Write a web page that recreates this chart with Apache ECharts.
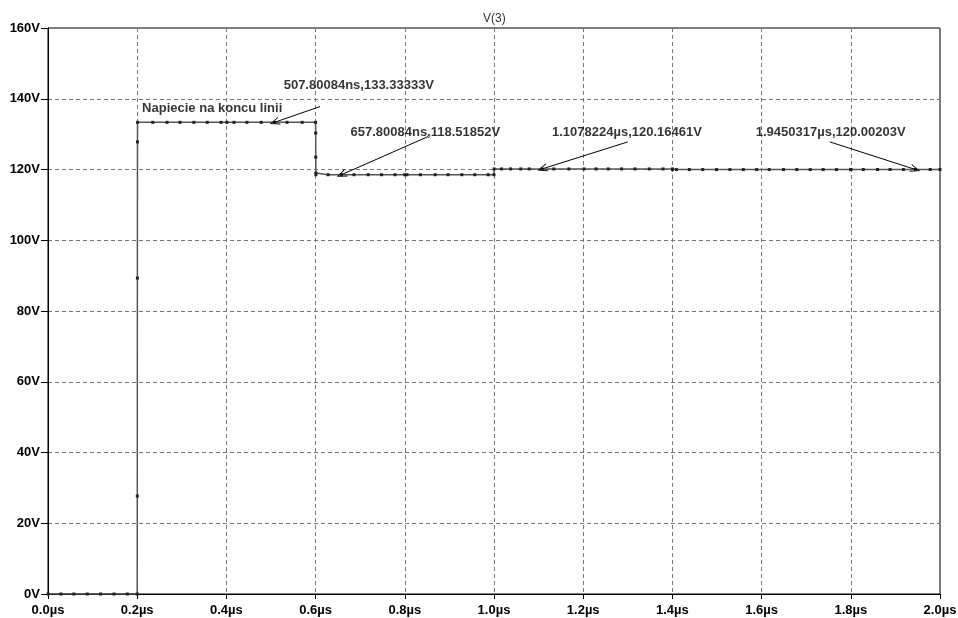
<!DOCTYPE html>
<html>
<head>
<meta charset="utf-8">
<script src="https://cdn.jsdelivr.net/npm/echarts/dist/echarts.min.js"></script>
<style>
    html, body { margin: 0; padding: 0; background: #fff; }
    #chart { width: 958px; height: 618px; }
</style>
</head>
<body>
<div id="chart"></div>
<script>
// time of each sample, in µs
var times = [0, 0.029, 0.058, 0.088, 0.118, 0.148, 0.178, 0.2,
    0.2002, 0.2004, 0.2006, 0.2008,
    0.235, 0.267, 0.296, 0.327, 0.357, 0.388, 0.401, 0.417, 0.446, 0.478, 0.5078, 0.536, 0.570, 0.6,
    0.6002, 0.6004, 0.6006, 0.6008,
    0.628, 0.6578, 0.686, 0.718, 0.748, 0.778, 0.800, 0.805, 0.835, 0.868, 0.897, 0.928, 0.957, 0.987, 1.0,
    1.0002, 1.017, 1.037, 1.060, 1.079, 1.1078, 1.134, 1.168, 1.202, 1.229, 1.256, 1.286, 1.316, 1.348, 1.379, 1.4,
    1.4002, 1.409, 1.438, 1.468, 1.499, 1.529, 1.559, 1.589, 1.617, 1.649, 1.679, 1.709, 1.738, 1.768, 1.8,
    1.8002, 1.828, 1.860, 1.888, 1.918, 1.945, 1.978, 2.0];
// V(3), in volts
var volts = [0, 0, 0, 0, 0, 0, 0, 0,
    27.7, 89.3, 127.8, 133.33,
    133.33, 133.33, 133.33, 133.33, 133.33, 133.33, 133.33, 133.33, 133.33, 133.33, 133.33, 133.33, 133.33, 133.33,
    130.3, 123.5, 119.0, 118.52,
    118.52, 118.52, 118.52, 118.52, 118.52, 118.52, 118.52, 118.52, 118.52, 118.52, 118.52, 118.52, 118.52, 118.52, 118.52,
    120.16, 120.16, 120.16, 120.16, 120.16, 120.16, 120.16, 120.16, 120.16, 120.16, 120.16, 120.16, 120.16, 120.16, 120.16, 120.16,
    119.98, 119.98, 119.98, 119.98, 119.98, 119.98, 119.98, 119.98, 119.98, 119.98, 119.98, 119.98, 119.98, 119.98, 119.98,
    120.002, 120.002, 120.002, 120.002, 120.002, 120.002, 120.002, 120.002];

// cursor notes: text placed at (noteTimes, noteVolts)
var noteTexts = ['Napiecie na koncu linii', '507.80084ns,133.33333V', '657.80084ns,118.51852V',
    '1.1078224µs,120.16461V', '1.9450317µs,120.00203V'];
var noteTimes = [0.211, 0.697, 0.846, 1.298, 1.755];
var noteVolts = [137.2, 143.8, 130.4, 130.4, 130.4];

// arrows from note to the marked sample
var arrowFrom = [[0.610, 137.8], [0.852, 129.3], [1.300, 127.8], [1.753, 127.8]];
var arrowTo = [[0.5078, 133.33], [0.6578, 118.52], [1.1078, 120.16], [1.945, 120.0]];

var chart = echarts.init(document.getElementById('chart'));

var lineData = times.map(function (t, i) { return [t, volts[i]]; });
var notes = noteTexts.map(function (s, i) {
    return {
        value: [noteTimes[i], noteVolts[i]],
        name: s,
        label: { align: i === 0 ? 'left' : 'center' }
    };
});
var arrows = arrowFrom.map(function (p, i) {
    return [{ coord: p }, { coord: arrowTo[i] }];
});

var font = '"Liberation Sans", Arial, sans-serif';

var option = {
    animation: false,
    backgroundColor: '#fff',
    title: {
        text: 'V(3)',
        left: 478,
        top: 8,
        textStyle: { fontFamily: font, fontSize: 12, fontWeight: 'normal', color: '#333' }
    },
    grid: {
        left: 48, right: 18, top: 28, bottom: 24,
        show: true,
        borderColor: '#000',
        borderWidth: 1,
        containLabel: false,
        outerBoundsMode: 'none'
    },
    xAxis: {
        type: 'value',
        min: 0, max: 2, interval: 0.2,
        axisLine: { show: true, onZero: false, lineStyle: { color: '#000' } },
        axisTick: { show: true, length: 5, lineStyle: { color: '#000' } },
        axisLabel: {
            margin: 10,
            fontFamily: font, fontSize: 13, fontWeight: 'bold', color: '#000',
            formatter: function (v) { return v.toFixed(1) + 'µs'; }
        },
        splitLine: { show: true, lineStyle: { color: '#777', type: [4, 3], width: 1 } }
    },
    yAxis: {
        type: 'value',
        min: 0, max: 160, interval: 20,
        axisLine: { show: true, onZero: false, lineStyle: { color: '#000' } },
        axisTick: { show: true, length: 7, lineStyle: { color: '#000' } },
        axisLabel: {
            margin: 8,
            fontFamily: font, fontSize: 13, fontWeight: 'bold', color: '#000',
            formatter: function (v) { return v + 'V'; }
        },
        splitLine: { show: true, lineStyle: { color: '#777', type: [4, 3], width: 1 } }
    },
    series: [
        {
            name: 'V(3)',
            type: 'line',
            data: lineData,
            lineStyle: { color: '#555', width: 1.5 },
            symbol: 'rect',
            symbolSize: 3,
            showAllSymbol: true,
            itemStyle: { color: '#222' },
            silent: true
        },
        {
            name: 'notes',
            type: 'scatter',
            data: notes,
            symbolSize: 0,
            silent: true,
            label: {
                show: true,
                position: 'inside',
                formatter: function (p) { return p.name; },
                fontFamily: font, fontSize: 13, fontWeight: 'bold', color: '#000'
            },
            markLine: {
                silent: true,
                animation: false,
                symbol: ['none', 'path://M5,0 L0,12 L1.2,12 L5,2.5 L8.8,12 L10,12 Z'],
                symbolSize: [8, 10],
                label: { show: false },
                lineStyle: { color: '#000', width: 1, type: 'solid' },
                data: arrows
            }
        }
    ]
};

chart.setOption(option);
</script>
</body>
</html>
